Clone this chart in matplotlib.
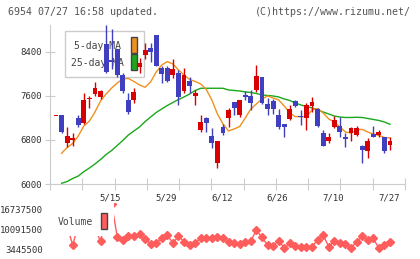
import numpy as np
import matplotlib
matplotlib.use("Agg")
import matplotlib.pyplot as plt
import matplotlib.transforms as mtransforms
from matplotlib.patches import Rectangle

# daily prices (red = up, blue = down)
opens = [7242, 7255, 6751, 6800, 7194, 7115, 7540, 7636, 7576, 8545,
         8255, 8449, 7982, 7527, 7527, 8127, 8351, 8467, 8709, 8103,
         8103, 7973, 8012, 7697, 7878, 7600, 6982, 7194, 6873, 6376,
         7031, 7194, 7485, 7255, 7618, 7600, 7709, 7940, 7455, 7509,
         7255, 7085, 7182, 7509, 7236, 7206, 7418, 7358, 6921, 6788,
         7042, 7055, 6861, 6933, 6891, 6691, 6606, 6909, 6891, 6849,
         6709]
closes = [7242, 6951, 6873, 6830, 7073, 7527, 7560, 7751, 7691, 8031,
          8220, 7982, 7690, 7315, 7678, 8194, 8436, 8394, 8151, 7994,
          7878, 8085, 7587, 7982, 7782, 7660, 7133, 7115, 6751, 6782,
          6933, 7345, 7388, 7527, 7587, 7467, 7964, 7467, 7358, 7358,
          7031, 7042, 7358, 7418, 7212, 7436, 7497, 7055, 6691, 6861,
          7164, 6951, 6824, 7024, 7024, 6618, 6788, 6861, 6939, 6606,
          6788]
highs = [7242, 7255, 7031, 6927, 7255, 7660, 7600, 7855, 7709, 8890,
         8810, 8449, 8024, 7660, 7740, 8291, 8558, 8558, 8709, 8145,
         8145, 8267, 8073, 8103, 7940, 7709, 7255, 7212, 7012, 6782,
         7091, 7376, 7485, 7527, 7697, 7709, 8164, 7940, 7558, 7540,
         7358, 7085, 7436, 7527, 7345, 7479, 7587, 7376, 6982, 6933,
         7236, 7212, 6921, 7042, 7055, 6709, 6830, 7055, 6982, 6849,
         6849]
lows = [7242, 6933, 6667, 6691, 7042, 7091, 7376, 7600, 7540, 8012,
        8085, 7951, 7660, 7273, 7467, 8018, 8267, 8224, 8151, 7842,
        7860, 7921, 7436, 7660, 7660, 7436, 6951, 6951, 6649, 6285,
        6891, 7042, 7255, 7224, 7527, 7345, 7678, 7449, 7255, 7273,
        6994, 6849, 7164, 7394, 7073, 6982, 7315, 7031, 6691, 6751,
        7012, 6849, 6667, 6788, 6873, 6388, 6467, 6849, 6861, 6570,
        6618]

ma5 = [np.nan, 6558, 6664, 6736, 6873, 7055, 7145, 7309, 7509, 7636,
       7745, 7836, 7909, 7918, 7864, 7800, 7758, 7855, 8036, 8164,
       8224, 8182, 8073, 7982, 7900, 7864, 7818, 7718, 7527, 7273,
       7091, 6964, 7000, 7045, 7200, 7364, 7455, 7545, 7600, 7564,
       7527, 7418, 7291, 7224, 7224, 7224, 7345, 7373, 7291, 7182,
       7127, 7036, 6945, 6927, 6982, 6994, 6945, 6909, 6882, 6845,
       6836]
ma25 = [np.nan, 6013, 6045, 6100, 6145, 6224, 6291, 6364, 6445, 6536,
        6609, 6700, 6791, 6891, 6964, 7036, 7133, 7218, 7300, 7364,
        7427, 7482, 7536, 7582, 7636, 7700, 7740, 7740, 7740, 7740,
        7740, 7709, 7700, 7691, 7673, 7664, 7645, 7618, 7609, 7600,
        7582, 7545, 7518, 7473, 7436, 7409, 7382, 7345, 7309, 7273,
        7236, 7218, 7209, 7209, 7213, 7209, 7191, 7173, 7155, 7127,
        7085]

volume = [10.5e6, 10.0e6, 11.0e6, 4.79e6, 11.5e6, 12.0e6, 10.5e6, 10.5e6, 5.96e6, 15.0e6,
          18.5e6, 7.56e6, 6.46e6, 7.80e6, 7.80e6, 8.37e6, 6.79e6, 5.12e6, 5.56e6, 7.03e6,
          8.13e6, 5.35e6, 7.80e6, 5.89e6, 4.79e6, 5.56e6, 7.03e6, 7.03e6, 7.03e6, 7.36e6,
          7.03e6, 5.69e6, 5.35e6, 5.02e6, 5.69e6, 6.12e6, 9.81e6, 7.36e6, 4.79e6, 4.55e6,
          6.22e6, 3.88e6, 5.35e6, 4.45e6, 4.02e6, 4.22e6, 4.22e6, 6.46e6, 8.13e6, 4.22e6,
          6.12e6, 5.35e6, 5.12e6, 3.88e6, 5.69e6, 7.80e6, 6.46e6, 7.03e6, 3.68e6, 4.79e6,
          5.69e6]

price_ticks = [6000, 6800, 7600, 8400]
vol_ticks = [3445500, 10091500, 16737500]
date_idx = [10, 20, 30, 40, 50, 60]
date_labels = ["5/15", "5/29", "6/12", "6/26", "7/10", "7/27"]

RED = "#d80000"
BLUE = "#3f3fbf"
ORANGE = "#f0901e"
GREEN = "#1aa81a"
PINK = "#ff5c5c"
GRID = "#cccccc"
MONO = "DejaVu Sans Mono"

W, H = 420, 259
fig = plt.figure(figsize=(W / 100, H / 100), dpi=100)


def px_axes(x0, y0, x1, y1):
    return fig.add_axes([x0 / W, 1 - y1 / H, (x1 - x0) / W, (y1 - y0) / H])


ax = px_axes(50, 25, 405, 184)
vax = px_axes(50, 203, 405, 255)

x = np.arange(len(opens))
o = np.array(opens, float)
c = np.array(closes, float)
cols = np.where(c >= o, RED, BLUE)
xmin, xmax = -1.08, 62.7

ax.plot(x, ma25, color=GREEN, lw=1, zorder=2)
ax.plot(x, ma5, color=ORANGE, lw=1, zorder=2)
ax.vlines(x, lows, highs, colors=cols, lw=1, zorder=3)
ax.bar(x, np.maximum(np.abs(c - o), 18), bottom=np.minimum(o, c), width=0.88,
       color=cols, linewidth=0, zorder=4)

ax.set_xlim(xmin, xmax)
ax.set_ylim(6000, 8890)
ax.set_yticks(price_ticks)
ax.set_yticklabels([str(v) for v in price_ticks], family=MONO, fontsize=6.5, color="#333333")
ax.set_xticks(np.linspace(xmin, xmax, 12))
ax.set_xticklabels([])
ax.tick_params(axis="y", direction="inout", length=7, color=GRID, pad=2)
ax.tick_params(axis="x", direction="inout", length=8, color=GRID)
for s in ["top", "right"]:
    ax.spines[s].set_visible(False)
for s in ["left", "bottom"]:
    ax.spines[s].set_color(GRID)

trans = mtransforms.blended_transform_factory(ax.transData, ax.transAxes)
for i, lab in zip(date_idx, date_labels):
    ax.text(i - 0.2, -0.088, lab, transform=trans, ha="center", va="center",
            family=MONO, fontsize=6.5, color="#333333")

# price legend
ax.add_patch(Rectangle((0.0423, 0.671), 0.2217, 0.293, transform=ax.transAxes,
                       fc="white", ec=GRID, lw=1, zorder=1))
ax.text(0.134, 0.868, "5-day MA", transform=ax.transAxes, ha="center", va="center",
        family=MONO, fontsize=7, color="#444444", zorder=1.5)
ax.text(0.134, 0.764, "25-day MA", transform=ax.transAxes, ha="center", va="center",
        family=MONO, fontsize=7, color="#444444", zorder=1.5)
ax.add_patch(Rectangle((0.228, 0.826), 0.0177, 0.097, transform=ax.transAxes,
                       fc=ORANGE, ec="#444444", lw=1, zorder=1.5))
ax.add_patch(Rectangle((0.228, 0.717), 0.0177, 0.10, transform=ax.transAxes,
                       fc=GREEN, ec="#444444", lw=1, zorder=1.5))

# volume panel
vax.patch.set_visible(False)
vax.plot(x, volume, color=PINK, lw=1, marker="D", ms=4.5, mec=PINK, zorder=2)
vax.set_xlim(xmin, xmax)
vax.set_ylim(1.44e6, 1.885e7)
vax.set_yticks(vol_ticks)
vax.set_yticklabels([str(v) for v in vol_ticks], family=MONO, fontsize=6.5, color="#333333")
vax.set_xticks([])
vax.tick_params(axis="y", length=0, pad=5)
for s in vax.spines.values():
    s.set_visible(False)
vax.add_patch(Rectangle((0.0056, 0.356), 0.175, 0.644, transform=vax.transAxes,
                        fc="white", ec="none", zorder=3))
vax.text(0.0225, 0.635, "Volume", transform=vax.transAxes, ha="left", va="center",
         family=MONO, fontsize=7, color="#444444", zorder=4)
vax.add_patch(Rectangle((0.1437, 0.506), 0.0177, 0.302, transform=vax.transAxes,
                        fc=PINK, ec="#444444", lw=1, zorder=4))

fig.text(8 / W, 1 - 12 / H, "6954 07/27 16:58 updated.", family=MONO, fontsize=7.2,
         color="#555555", va="center")
fig.text(411 / W, 1 - 12 / H, "(C)https://www.rizumu.net/", family=MONO, fontsize=7.2,
         color="#555555", va="center", ha="right")

fig.savefig("out.png", dpi=100)
